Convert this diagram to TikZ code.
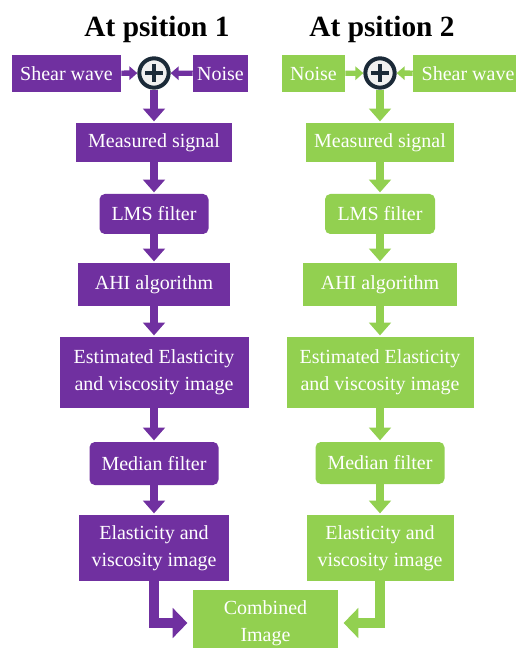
\documentclass[tikz,border=0pt]{standalone}
\usepackage{fontspec}
\setmainfont{Liberation Serif}
\usepackage{tikz}
\usetikzlibrary{arrows.meta}

\definecolor{purp}{HTML}{7030A0}
\definecolor{lgreen}{HTML}{92D050}
\definecolor{navy}{HTML}{1B2A38}

\tikzset{
  box/.style={fill=#1, text=white, inner sep=0pt, align=center,
    font=\rmfamily\fontsize{15}{20}\selectfont},
  rbox/.style={box=#1, rounded corners=4pt},
  title/.style={anchor=base, font=\rmfamily\fontsize{22}{24}\selectfont\bfseries},
  summer/.style={circle, draw=navy, line width=3pt, fill=gray!12,
    minimum size=22pt, inner sep=0pt},
  flow/.style={draw=#1, line width=5.5pt,
    -{Triangle[width=16pt,length=9.5pt]}, shorten >=1pt},
  side/.style={draw=#1, line width=4pt,
    -{Triangle[width=10pt,length=6pt]}},
  merge/.style={draw=#1, line width=7.5pt, line join=miter,
    -{Triangle[width=22pt,length=11pt]}, shorten >=4pt}
}

\begin{document}
\begin{tikzpicture}[x=0.75pt, y=-0.75pt]
  \useasboundingbox (0,0) rectangle (516,648);

  % Titles
  \node[title] (title1) at (157,37) {At psition 1};
  \node[title] (title2) at (382,37) {At psition 2};

  % Position 1 (purple)
  \node[box=purp, minimum width=81.75pt, minimum height=27.75pt] (sw1) at (66.5,73.5) {Shear wave};
  \node[summer] (plus1) at (154,73) {};
  \node[box=purp, minimum width=41.25pt, minimum height=27.75pt] (noise1) at (220.5,73.5) {Noise};
  \node[box=purp, minimum width=117pt, minimum height=29.25pt] (ms1) at (154,142.5) {Measured signal};
  \node[rbox=purp, minimum width=81.75pt, minimum height=30pt] (lms1) at (154,214) {LMS filter};
  \node[box=purp, minimum width=114pt, minimum height=32.25pt] (ahi1) at (154,284.5) {AHI algorithm};
  \node[box=purp, minimum width=141.75pt, minimum height=53.25pt] (est1) at (154,372.5) {Estimated Elasticity\\and viscosity image};
  \node[rbox=purp, minimum width=96.75pt, minimum height=32.25pt] (med1) at (154,463.5) {Median filter};
  \node[box=purp, minimum width=112.5pt, minimum height=49.5pt] (ela1) at (154,548) {Elasticity and\\viscosity image};

  % Position 2 (green)
  \node[box=lgreen, minimum width=47.25pt, minimum height=27.75pt] (noise2) at (313.5,73.5) {Noise};
  \node[summer] (plus2) at (380,73) {};
  \node[box=lgreen, minimum width=82.5pt, minimum height=27.75pt] (sw2) at (468,73.5) {Shear wave};
  \node[box=lgreen, minimum width=111pt, minimum height=29.25pt] (ms2) at (380,142.5) {Measured signal};
  \node[rbox=lgreen, minimum width=82.5pt, minimum height=30pt] (lms2) at (380,214) {LMS filter};
  \node[box=lgreen, minimum width=115.5pt, minimum height=32.25pt] (ahi2) at (380,284.5) {AHI algorithm};
  \node[box=lgreen, minimum width=140.25pt, minimum height=53.25pt] (est2) at (380,372.5) {Estimated Elasticity\\and viscosity image};
  \node[rbox=lgreen, minimum width=96.75pt, minimum height=31.5pt] (med2) at (380,463) {Median filter};
  \node[box=lgreen, minimum width=110.25pt, minimum height=49.5pt] (ela2) at (380,548) {Elasticity and\\viscosity image};

  % Combined result
  \node[box=lgreen, minimum width=108.75pt, minimum height=49.5pt] (comb) at (265.5,623) {Combined\\Image};

  % Plus signs
  \foreach \p in {plus1, plus2}
    \draw[navy, line width=3pt] (\p.center) ++(-9,0) -- ++(18,0)
                                (\p.center) ++(0,-9) -- ++(0,18);

  % Inputs into the summers
  \draw[side=purp] (sw1) -- (plus1);
  \draw[side=purp] (noise1) -- (plus1);
  \draw[side=lgreen] (noise2) -- (plus2);
  \draw[side=lgreen] (sw2) -- (plus2);

  % Vertical flow
  \draw[flow=purp] (plus1) -- (ms1);
  \draw[flow=purp] (ms1) -- (lms1);
  \draw[flow=purp] (lms1) -- (ahi1);
  \draw[flow=purp] (ahi1) -- (est1);
  \draw[flow=purp] (est1) -- (med1);
  \draw[flow=purp] (med1) -- (ela1);
  \draw[flow=lgreen] (plus2) -- (ms2);
  \draw[flow=lgreen] (ms2) -- (lms2);
  \draw[flow=lgreen] (lms2) -- (ahi2);
  \draw[flow=lgreen] (ahi2) -- (est2);
  \draw[flow=lgreen] (est2) -- (med2);
  \draw[flow=lgreen] (med2) -- (ela2);

  % Merge into combined image
  \draw[merge=purp] (ela1.south) |- (comb.west);
  \draw[merge=lgreen] (ela2.south) |- (comb.east);
\end{tikzpicture}
\end{document}
